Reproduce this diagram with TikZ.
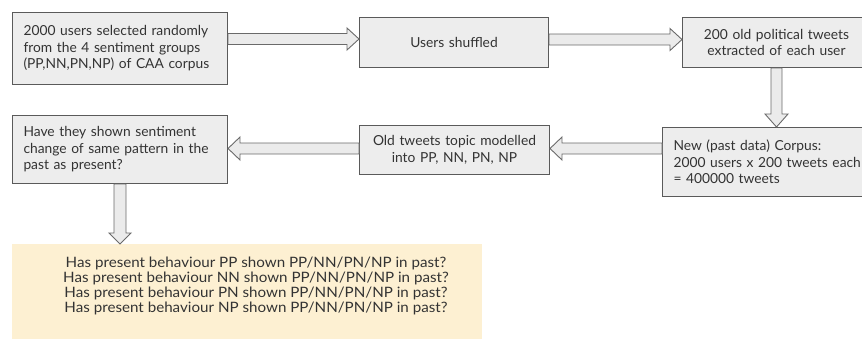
\documentclass[tikz,border=0pt]{standalone}
\usepackage{fontspec}
\setmainfont{Lato}
\newfontfamily\widelato{Lato}[FakeStretch=1.06]
\usetikzlibrary{calc}
\definecolor{boxfill}{HTML}{EDEDED}
\definecolor{boxline}{HTML}{5A5A5A}
\definecolor{arrfill}{HTML}{EBEBEB}
\definecolor{arrline}{HTML}{6A6A6A}
\definecolor{yel}{HTML}{FDF0D2}
\definecolor{txt}{HTML}{333333}
\tikzset{
  box/.style={draw=boxline, fill=boxfill, line width=1pt, anchor=north west,
    inner xsep=11pt, inner ysep=0pt, text=txt, font=\fontsize{13.8}{16.5}\selectfont},
  barrow/.style={draw=arrline, fill=arrfill, line width=0.9pt, line join=miter},
}
\begin{document}
\begin{tikzpicture}[x=1pt,y=-1pt]
\useasboundingbox (0,0) rectangle (862,338);
\begin{scope}
\clip (0,0) rectangle (862,338);
\node[box, minimum width=215, minimum height=72, text width=193, align=left] (b1) at (12,12)
  {2000 users selected randomly\\from the 4 sentiment groups\\(PP,NN,PN,NP) of CAA corpus};
\node[box, minimum width=189, minimum height=50, inner xsep=4pt, text width=181, align=center] (b2) at (359,17)
  {Users shuffled};
\node[box, minimum width=188, minimum height=50, inner xsep=4pt, text width=180, align=center] (b3) at (682,17)
  {200 old political tweets\\extracted of each user};
\node[box, minimum width=230, minimum height=69, text width=208, align=left] (b4) at (662,127)
  {New (past data) Corpus:\\2000 users x 200 tweets each\\= 400000 tweets};
\node[box, minimum width=190, minimum height=49, inner xsep=4pt, text width=182, align=center] (b5) at (359,125)
  {Old tweets topic modelled\\into PP, NN, PN, NP};
\node[box, minimum width=215, minimum height=68, text width=193, align=left] (b6) at (12,115)
  {Have they shown sentiment\\change of same pattern in the\\past as present?};
\node[fill=yel, anchor=north west, minimum width=470, minimum height=96, inner sep=0pt] (y) at (12,244) {};
\node[inner sep=0pt, align=center, text=txt, font=\widelato\fontsize{14.3}{15}\selectfont] (yt) at (256,285.5)
  {Has present behaviour PP shown PP/NN/PN/NP in past?\\
   Has present behaviour NN shown PP/NN/PN/NP in past?\\
   Has present behaviour PN shown PP/NN/PN/NP in past?\\
   Has present behaviour NP shown PP/NN/PN/NP in past?};
% right arrows
\draw[barrow] let \p1=(b1.east), \p2=(b2.west), \p3=(b2.center) in
  (\x1,\y3+3.5pt+5.5pt) -- (\x2-12pt,\y3+3.5pt+5.5pt) -- (\x2-12pt,\y3+3.5pt+11pt) -- (\x2,\y3+3.5pt)
  -- (\x2-12pt,\y3+3.5pt-11pt) -- (\x2-12pt,\y3+3.5pt-5.5pt) -- (\x1,\y3+3.5pt-5.5pt) -- cycle;
\draw[barrow] let \p1=(b2.east), \p2=(b3.west), \p3=(b3.center) in
  (\x1,\y3+3pt+5.5pt) -- (\x2-12pt,\y3+3pt+5.5pt) -- (\x2-12pt,\y3+3pt+11pt) -- (\x2,\y3+3pt)
  -- (\x2-12pt,\y3+3pt-11pt) -- (\x2-12pt,\y3+3pt-5.5pt) -- (\x1,\y3+3pt-5.5pt) -- cycle;
% down arrow b3 -> b4
\draw[barrow] let \p1=(b3.south), \p2=(b4.north), \p3=(b3.south) in
  (\x3-5.5pt,\y1) -- (\x3-5.5pt,\y2+13pt) -- (\x3-11.5pt,\y2+13pt) -- (\x3,\y2)
  -- (\x3+11.5pt,\y2+13pt) -- (\x3+5.5pt,\y2+13pt) -- (\x3+5.5pt,\y1) -- cycle;
% left arrows
\draw[barrow] let \p1=(b4.west), \p2=(b5.east), \p3=(b5.center) in
  (\x1,\y3+1.5pt+5.5pt) -- (\x2+12pt,\y3+1.5pt+5.5pt) -- (\x2+12pt,\y3+1.5pt+11.5pt) -- (\x2,\y3+1.5pt)
  -- (\x2+12pt,\y3+1.5pt-11.5pt) -- (\x2+12pt,\y3+1.5pt-5.5pt) -- (\x1,\y3+1.5pt-5.5pt) -- cycle;
\draw[barrow] let \p1=(b5.west), \p2=(b6.east), \p3=(b5.center) in
  (\x1,\y3+1.5pt+5.5pt) -- (\x2+12pt,\y3+1.5pt+5.5pt) -- (\x2+12pt,\y3+1.5pt+11.5pt) -- (\x2,\y3+1.5pt)
  -- (\x2+12pt,\y3+1.5pt-11.5pt) -- (\x2+12pt,\y3+1.5pt-5.5pt) -- (\x1,\y3+1.5pt-5.5pt) -- cycle;
% down arrow b6 -> yellow
\draw[barrow] let \p1=(b6.south), \p2=(y.north), \p3=(b6.south) in
  (\x3-6pt,\y1) -- (\x3-6pt,\y2+11pt) -- (\x3-11pt,\y2+11pt) -- (\x3,\y2)
  -- (\x3+11pt,\y2+11pt) -- (\x3+6pt,\y2+11pt) -- (\x3+6pt,\y1) -- cycle;
\end{scope}
\end{tikzpicture}
\end{document}
